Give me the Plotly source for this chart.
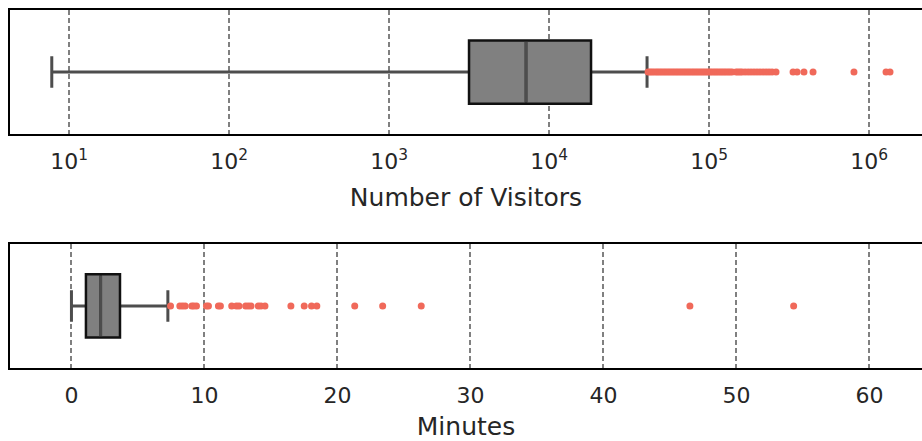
import plotly.graph_objects as go
from plotly.subplots import make_subplots

# ---- data ----
visitors_quartiles = [3162, 7180, 18300]          # q1, median, q3
visitors_whiskers = [7.8, 40980]                  # lower, upper fence
visitors_outliers = [
    41600, 42800, 44000, 45300, 46700, 48000, 49400, 50800, 52300, 53800,
    55400, 57000, 58700, 60400, 62200, 64000, 65900, 67800, 69800, 71800,
    73900, 76000, 78300, 80500, 82900, 85300, 87800, 90400, 93000, 95800,
    98600, 101500, 104400, 107500, 110600, 113800, 117200, 120600, 124100,
    127700, 131500, 135300, 139300, 147500, 151800, 156300, 160800, 168000,
    175500, 183000, 191000, 199500, 208300, 217600, 227200, 237100, 247600,
    262200, 335000, 355000, 392000, 446700, 805000, 1277000, 1352000,
]
visitors_tickvals = [10, 100, 1000, 10000, 100000, 1000000]
visitors_ticktext = ["10<sup>1</sup>", "10<sup>2</sup>", "10<sup>3</sup>",
                     "10<sup>4</sup>", "10<sup>5</sup>", "10<sup>6</sup>"]

minutes_quartiles = [1.09, 2.2, 3.65]
minutes_whiskers = [0.0, 7.25]
minutes_outliers = [
    7.45, 8.15, 8.35, 8.55, 9.05, 9.2, 9.4, 10.15, 10.3, 11.05, 11.2, 12.05,
    12.4, 12.6, 13.1, 13.3, 13.5, 14.05, 14.25, 14.55, 16.5, 17.5, 18.05,
    18.45, 21.3, 23.4, 26.3, 46.5, 54.3,
]
minutes_tickvals = [0, 10, 20, 30, 40, 50, 60]

# ---- styles ----
FILL = "#808080"
WHISKER = "#4d4d4d"
EDGE = "#111111"
OUTLIER = "#f0695a"
TEXT = "#262626"
FONT = "DejaVu Sans"

fig = make_subplots(rows=2, cols=1, vertical_spacing=0.3)


def add_box(row, quart, whisk, outliers):
    q1, med, q3 = quart
    lo, hi = whisk
    # whiskers (+ caps)
    fig.add_trace(go.Box(y=[0], q1=[med], median=[med], q3=[med],
                         lowerfence=[lo], upperfence=[hi], orientation="h",
                         width=0.51, whiskerwidth=0.5, boxpoints=False,
                         line=dict(color=WHISKER, width=3),
                         fillcolor="rgba(0,0,0,0)", showlegend=False,
                         hoverinfo="skip"), row=row, col=1)
    # box body
    fig.add_trace(go.Box(y=[0], q1=[q1], median=[med], q3=[q3],
                         lowerfence=[q1], upperfence=[q3], orientation="h",
                         width=0.51, whiskerwidth=0, boxpoints=False,
                         line=dict(color=EDGE, width=2.5),
                         fillcolor=FILL, showlegend=False,
                         hoverinfo="skip"), row=row, col=1)
    # median line
    fig.add_trace(go.Box(y=[0], q1=[med], median=[med], q3=[med],
                         lowerfence=[med], upperfence=[med], orientation="h",
                         width=0.49, whiskerwidth=0, boxpoints=False,
                         line=dict(color=WHISKER, width=3),
                         fillcolor="rgba(0,0,0,0)", showlegend=False,
                         hoverinfo="skip"), row=row, col=1)
    # outliers
    fig.add_trace(go.Scatter(x=outliers, y=[0] * len(outliers), mode="markers",
                             marker=dict(color=OUTLIER, size=7, line=dict(width=0)),
                             showlegend=False, hoverinfo="skip"), row=row, col=1)


add_box(1, visitors_quartiles, visitors_whiskers, visitors_outliers)
add_box(2, minutes_quartiles, minutes_whiskers, minutes_outliers)

axis_common = dict(showline=True, linecolor="#000000", linewidth=2, mirror=True,
                   showgrid=True, gridcolor="#808080", gridwidth=2,
                   griddash="5px,3px", zeroline=False,
                   ticks="outside", ticklen=7, tickcolor="rgba(0,0,0,0)",
                   tickfont=dict(family=FONT, size=22, color=TEXT),
                   title_font=dict(family=FONT, size=25, color=TEXT))

fig.update_xaxes(type="log", range=[0.631, 6.331], tickvals=visitors_tickvals,
                 ticktext=visitors_ticktext, title_text="Number of Visitors",
                 row=1, col=1, **axis_common)
fig.update_xaxes(range=[-4.62, 63.95], tickvals=minutes_tickvals,
                 title_text="Minutes", row=2, col=1, **axis_common)

fig.update_yaxes(range=[-0.5, 0.5], showticklabels=False, showgrid=False,
                 zeroline=False, showline=True, linecolor="#000000",
                 linewidth=2, mirror=False, ticks="")

fig.update_layout(
    width=922, height=441,
    margin=dict(l=10, r=0, t=10, b=73, autoexpand=False),
    plot_bgcolor="white", paper_bgcolor="white",
    boxmode="overlay",
    font=dict(family=FONT, color=TEXT),
)
fig.layout.yaxis.domain = [0.6536, 1.0]
fig.layout.yaxis2.domain = [0.0, 0.3464]

fig.write_html(
    "out.html",
    config={"displayModeBar": False},
    post_script="document.body.style.margin='0';document.body.style.overflow='hidden';",
)
